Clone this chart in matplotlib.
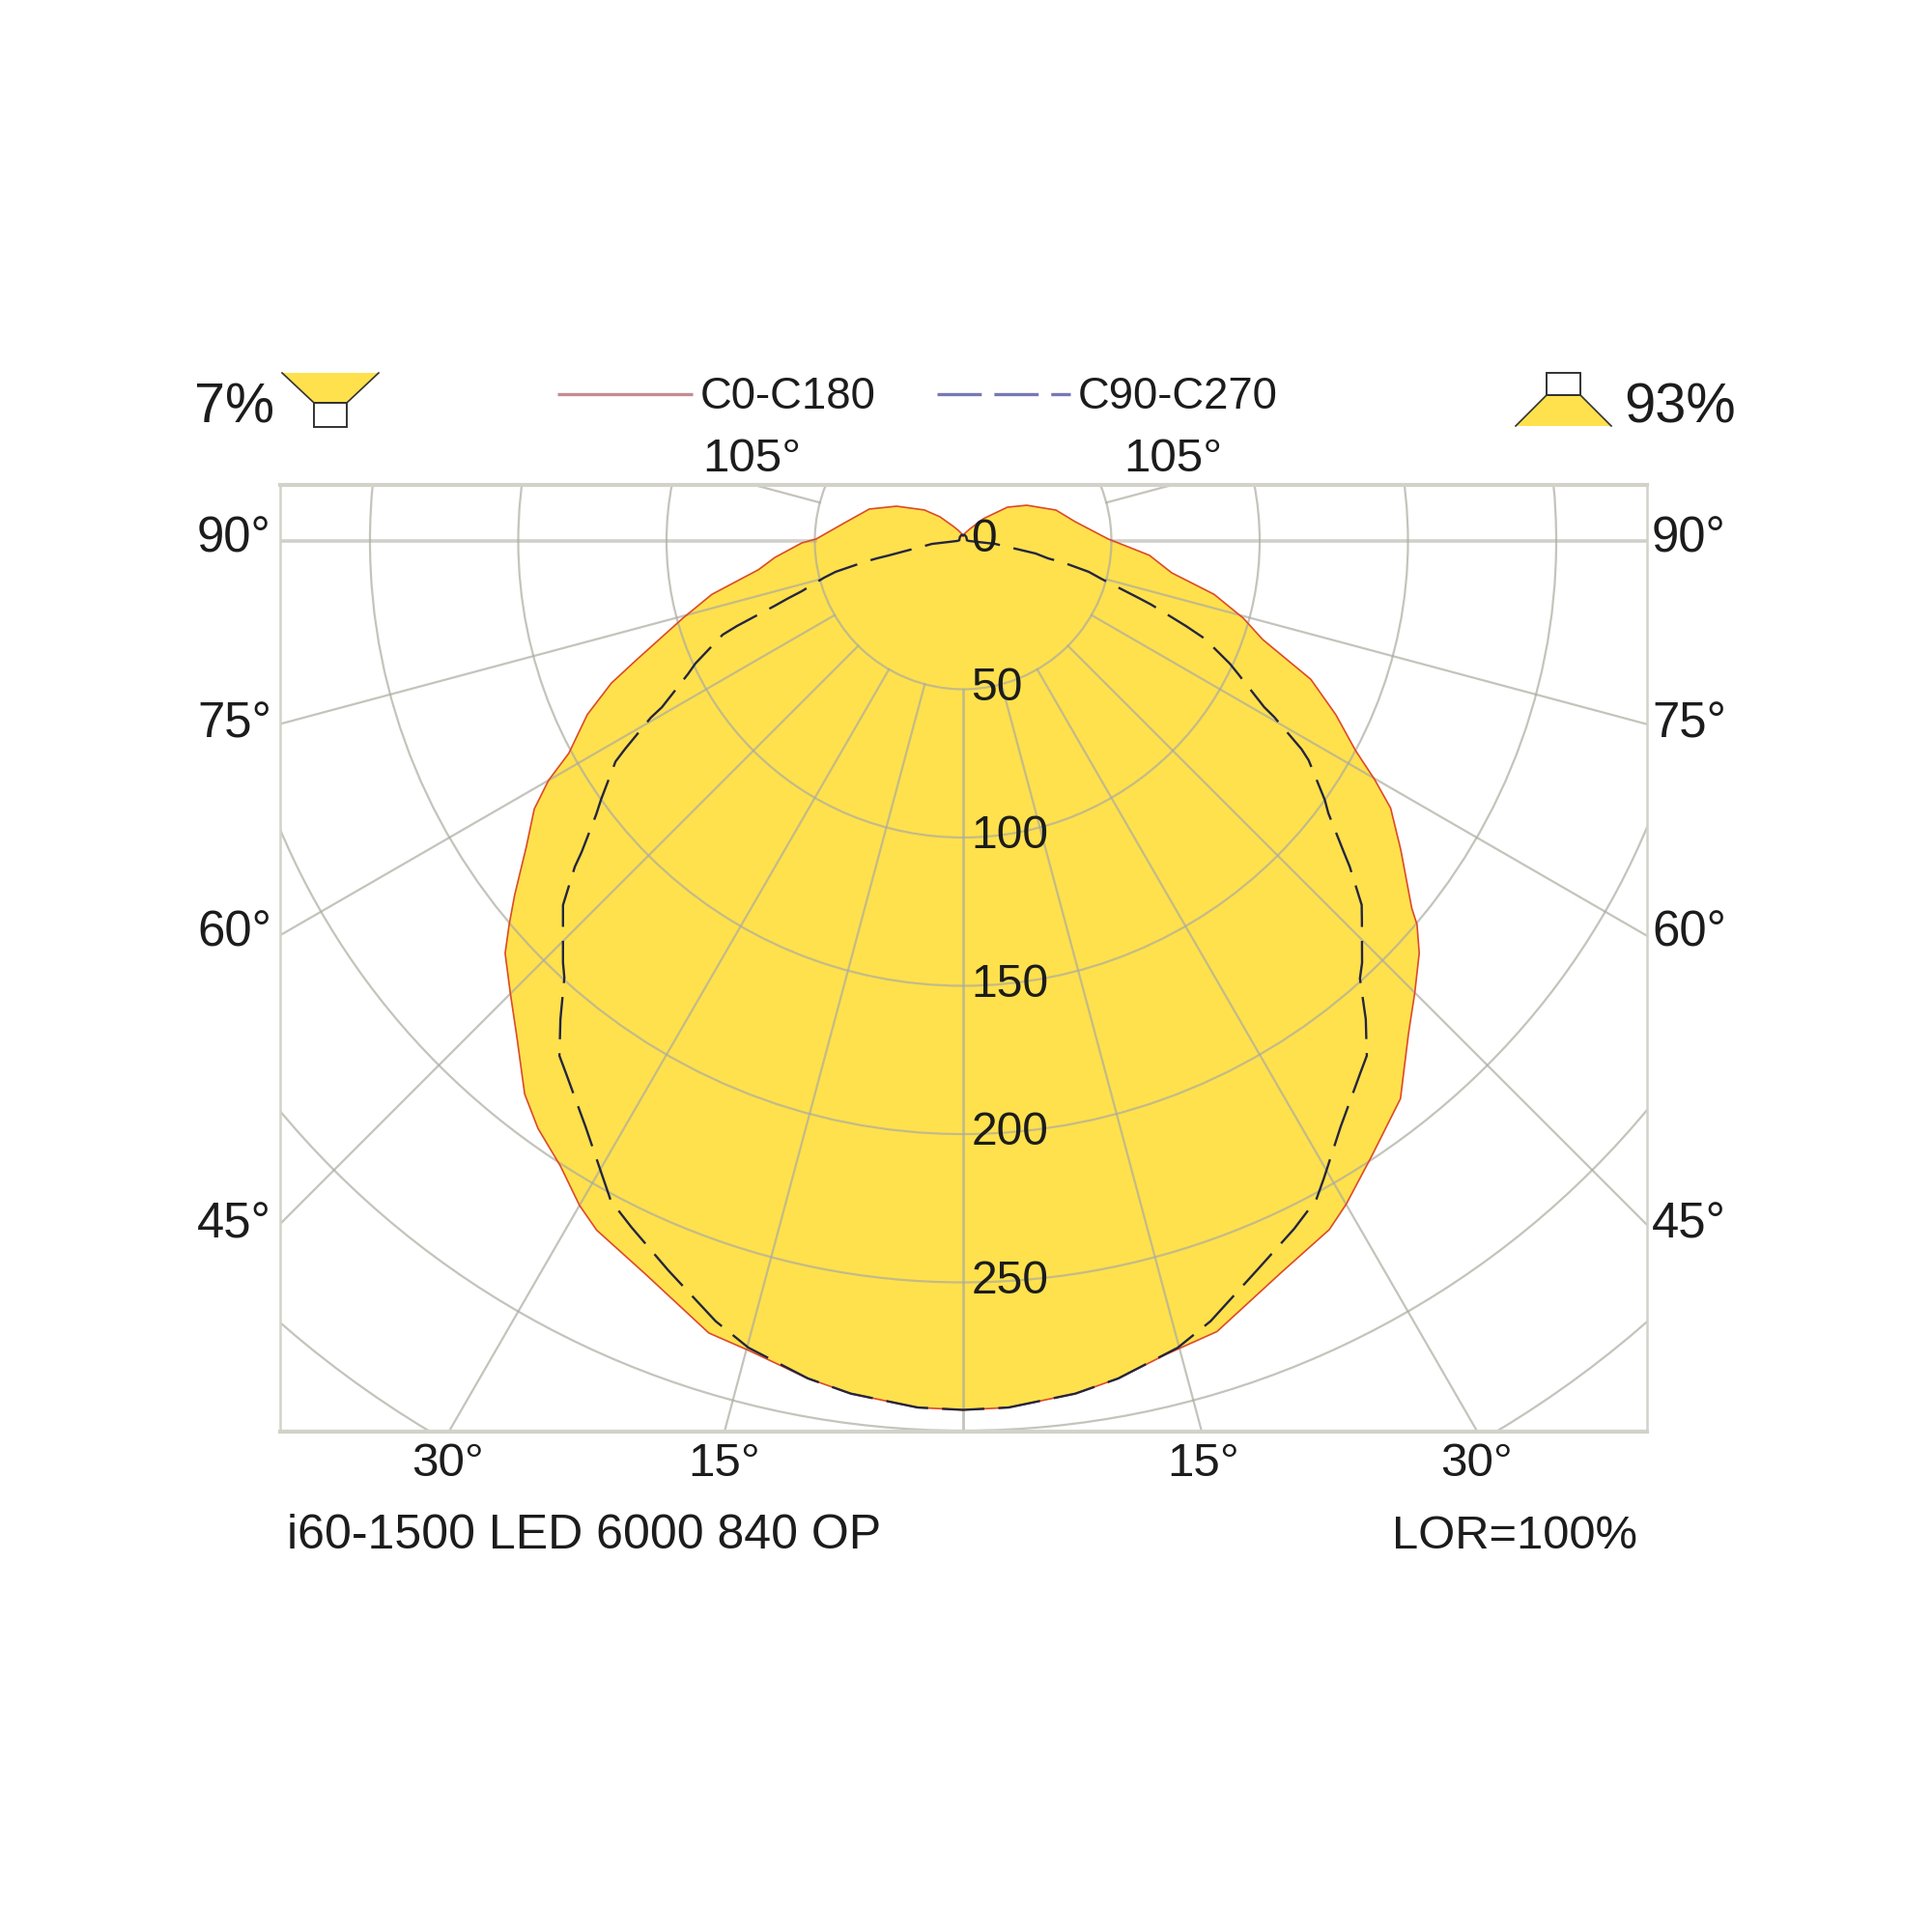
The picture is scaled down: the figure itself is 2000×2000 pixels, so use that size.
import numpy as np
import matplotlib
matplotlib.use('Agg')
import matplotlib.pyplot as plt
from matplotlib.patches import Polygon, Circle, Rectangle

plt.rcParams['font.family'] = ['Liberation Sans', 'DejaVu Sans']
plt.rcParams['lines.scale_dashes'] = False

# luminous intensity, gamma in degrees from straight down
c0_gamma = [0, 3, 7.5, 10.5, 14, 17.8, 23.5, 28, 30, 33.6, 38.1, 42.1, 45, 47.9, 49.8, 50.7, 54.8, 58, 59.9,
            61.9, 65, 68.3, 71.8, 74.6, 78, 81.3, 85.6, 87.7, 90.8, 99.8, 108.4, 119.3, 127.3, 137.6, 150, 165, 180]
c0_cd = [293, 292.6, 290, 287.2, 282.7, 280, 269, 263, 258.3, 249, 239, 224, 215.4, 207.3, 200.4, 195.5, 180.6, 170, 160.4,
         150, 138.7, 126.2, 106.3, 98, 86.5, 71.2, 63, 56.4, 48.9, 38.3, 33, 24.6, 18.8, 10.2, 4.8, 2.8, 1.6]
c180_gamma = [0, 3, 7.5, 10.5, 14.8, 17.8, 23.5, 28, 30, 32.8, 35.9, 38.4, 42, 45.1, 48, 49.8, 51.7, 55, 58, 60,
              61.7, 65.2, 68, 70.1, 74.6, 78, 82, 85, 89.3, 90.8, 98.3, 108.8, 117.6, 128.7, 136.2, 146.3, 155, 165, 180]
c180_cd = [293, 292.6, 290, 287.2, 282.4, 280.5, 269.3, 263.2, 258.7, 250.7, 244.5, 238, 224.9, 215.6, 207.8, 200.4, 192.7, 179.8, 170.5, 161.4,
           151, 139.6, 127.9, 116.7, 98, 86.6, 69.7, 63.7, 54.4, 49.5, 40.8, 33.4, 25.3, 16.7, 11.3, 5.9, 4, 2.8, 1.6]
c90_gamma = [0, 3, 7.5, 10.5, 14.9, 17.6, 22, 25.7, 28.2, 29.5, 32.8, 36.7, 38.1, 40.1, 42.2, 43.4, 46.4, 47.6, 49.9, 50.7, 51.9, 53.3, 54.4,
             57.6, 58.4, 60.5, 61.1, 64.2, 65.3, 68, 69.1, 71.3, 72, 74.7, 76.2, 77.9, 78.4, 80.2, 84.8, 90, 100, 120, 140, 160, 180]
c90_cd = [293, 292.6, 290, 287.2, 281.5, 276, 265, 257.4, 252, 247, 235, 224, 220.6, 210.8, 199.2, 195.8, 185.7, 182, 170.4, 166, 160, 153.6, 150,
          138, 134, 120.5, 116, 103, 99, 87.8, 80.5, 67, 62.3, 48.3, 43.6, 34.3, 29.3, 24.8, 10.8, 2, 1.3, 1.4, 1.7, 2, 2.2]
c270_gamma = [0, 3, 7.5, 10.5, 14.9, 17.6, 22, 25.8, 28.1, 29.3, 32.8, 36.7, 38.1, 40.1, 42.4, 43.5, 46.5, 47.7, 50, 50.8, 53.3, 54.5,
              57.6, 58.4, 60.5, 61.1, 64.2, 65.4, 68.7, 69.4, 71, 71.8, 72.7, 75.2, 76.4, 78, 78.6, 79, 84.6, 90, 100, 120, 140, 160, 180]
c270_cd = [293, 292.6, 290, 287.2, 281.5, 276, 265.3, 257, 252.2, 247.4, 235, 224, 220.6, 210.8, 199.4, 196, 186, 182.4, 170.9, 166, 154.3, 149.9,
           138.8, 133.8, 121, 116, 103, 99.3, 87, 81.4, 67.2, 62.4, 57, 48.5, 44.2, 34, 29.6, 25.5, 10.5, 2, 1.3, 1.4, 1.7, 2, 2.2]

grid_radii = [50, 100, 150, 200, 250, 300, 350]
spoke_angles = [15, 30, 45, 60, 75, 90, 105]
radial_labels = [0, 50, 100, 150, 200, 250]

GRID = '#ABABA0'
YELLOW = '#FFE14D'
TXT = '#1c1c1c'
PX = 3.07  # pixels per cd


def outline(left_g, left_i, right_g, right_i):
    # left half runs from the top down to nadir, right half back up
    lg = np.radians(left_g)[::-1]
    li = np.array(left_i)[::-1]
    rg = np.radians(right_g)
    ri = np.array(right_i)
    x = np.concatenate([-li * np.sin(lg), ri[1:] * np.sin(rg[1:])])
    y = np.concatenate([-li * np.cos(lg), -ri[1:] * np.cos(rg[1:])])
    return x, y


fig = plt.figure(figsize=(10, 10), dpi=200, facecolor='white')
ax = fig.add_axes([290 / 2000, 1 - 1482 / 2000, 1415 / 2000, 980 / 2000])
ax.set_xlim((290 - 997) / PX, (1705 - 997) / PX)
ax.set_ylim((560 - 1482) / PX, (560 - 502) / PX)
ax.set_xticks([])
ax.set_yticks([])
for name, spine in ax.spines.items():
    spine.set_color('#D2D2CA')
    spine.set_linewidth(1.5 if name in ('top', 'bottom') else 0.9)

red_x, red_y = outline(c180_gamma, c180_cd, c0_gamma, c0_cd)
blue_x, blue_y = outline(c270_gamma, c270_cd, c90_gamma, c90_cd)
ax.fill(red_x, red_y, color=YELLOW, lw=0, zorder=1)

for r in grid_radii:
    ax.add_patch(Circle((0, 0), r, fill=False, ec=GRID, lw=0.8, alpha=0.7, zorder=2))
far = 500
ax.plot([0, 0], [-50, -far], color=GRID, lw=1.0, alpha=0.7, zorder=2)
for a in spoke_angles:
    s, c = np.sin(np.radians(a)), np.cos(np.radians(a))
    w = 1.3 if a == 90 else 0.8
    al = 0.55 if a == 90 else 0.7
    ax.plot([50 * s, far * s], [-50 * c, -far * c], color=GRID, lw=w, alpha=al, zorder=2)
    ax.plot([-50 * s, -far * s], [-50 * c, -far * c], color=GRID, lw=w, alpha=al, zorder=2)

ax.plot(red_x, red_y, color='#DD4A28', lw=0.6, solid_joinstyle='round', zorder=3)
ax.plot(blue_x, blue_y, color='#25253F', lw=0.85, linestyle=(0, (15.8, 5.2)), zorder=4)

for v in radial_labels:
    ax.text(2.7, -v - 3.6, str(v), fontsize=17.3, color=TXT, ha='left', va='baseline', zorder=5)

# everything outside the plot frame, placed in image pixels
ov = fig.add_axes([0, 0, 1, 1], facecolor='none')
ov.set_xlim(0, 2000)
ov.set_ylim(2000, 0)
ov.axis('off')


def label(x, y, s, size=17.8, ha='left'):
    ov.text(x, y, s, fontsize=size, color=TXT, ha=ha, va='baseline')


label(201, 438, '7%', 20.7)
label(1681, 438, '93%', 20.8)
label(725, 423, 'C0-C180', 16.4)
label(1116, 423, 'C90-C270', 16.4)
label(727, 488, '105°')
label(1163, 488, '105°')
for y, s in zip([572, 763, 980, 1282], ['90°', '75°', '60°', '45°']):
    label(204, y, s, 18.3)
    label(1710, y, s, 18.3)
label(426, 1528, '30°')
label(712, 1528, '15°')
label(1208, 1528, '15°')
label(1491, 1528, '30°')
label(297, 1603, 'i60-1500 LED 6000 840 OP', 18)
label(1695, 1603, 'LOR=100%', 17.6, ha='right')

ov.plot([577, 717], [408, 408], color='#C48C94', lw=1.2, solid_capstyle='butt')
ov.plot([970, 1108], [408, 408], color='#7878B4', lw=1.2, linestyle=(0, (16.5, 4.7)))

# downlight / uplight icons
ov.add_patch(Polygon([(292, 386), (392, 386), (359, 417), (325, 417)], fc=YELLOW, lw=0))
ov.plot([292, 325, 359, 392], [386, 417, 417, 386], color='#333333', lw=0.6)
ov.add_patch(Rectangle((325, 417), 34, 25, fc='white', ec='#333333', lw=0.7))
ov.add_patch(Polygon([(1601, 409), (1636, 409), (1668, 441), (1569, 441)], fc=YELLOW, lw=0))
ov.plot([1569, 1601, 1636, 1668], [441, 409, 409, 441], color='#333333', lw=0.6)
ov.add_patch(Rectangle((1601, 386), 35, 23, fc='white', ec='#333333', lw=0.7))

fig.savefig('out.png', dpi=200)
